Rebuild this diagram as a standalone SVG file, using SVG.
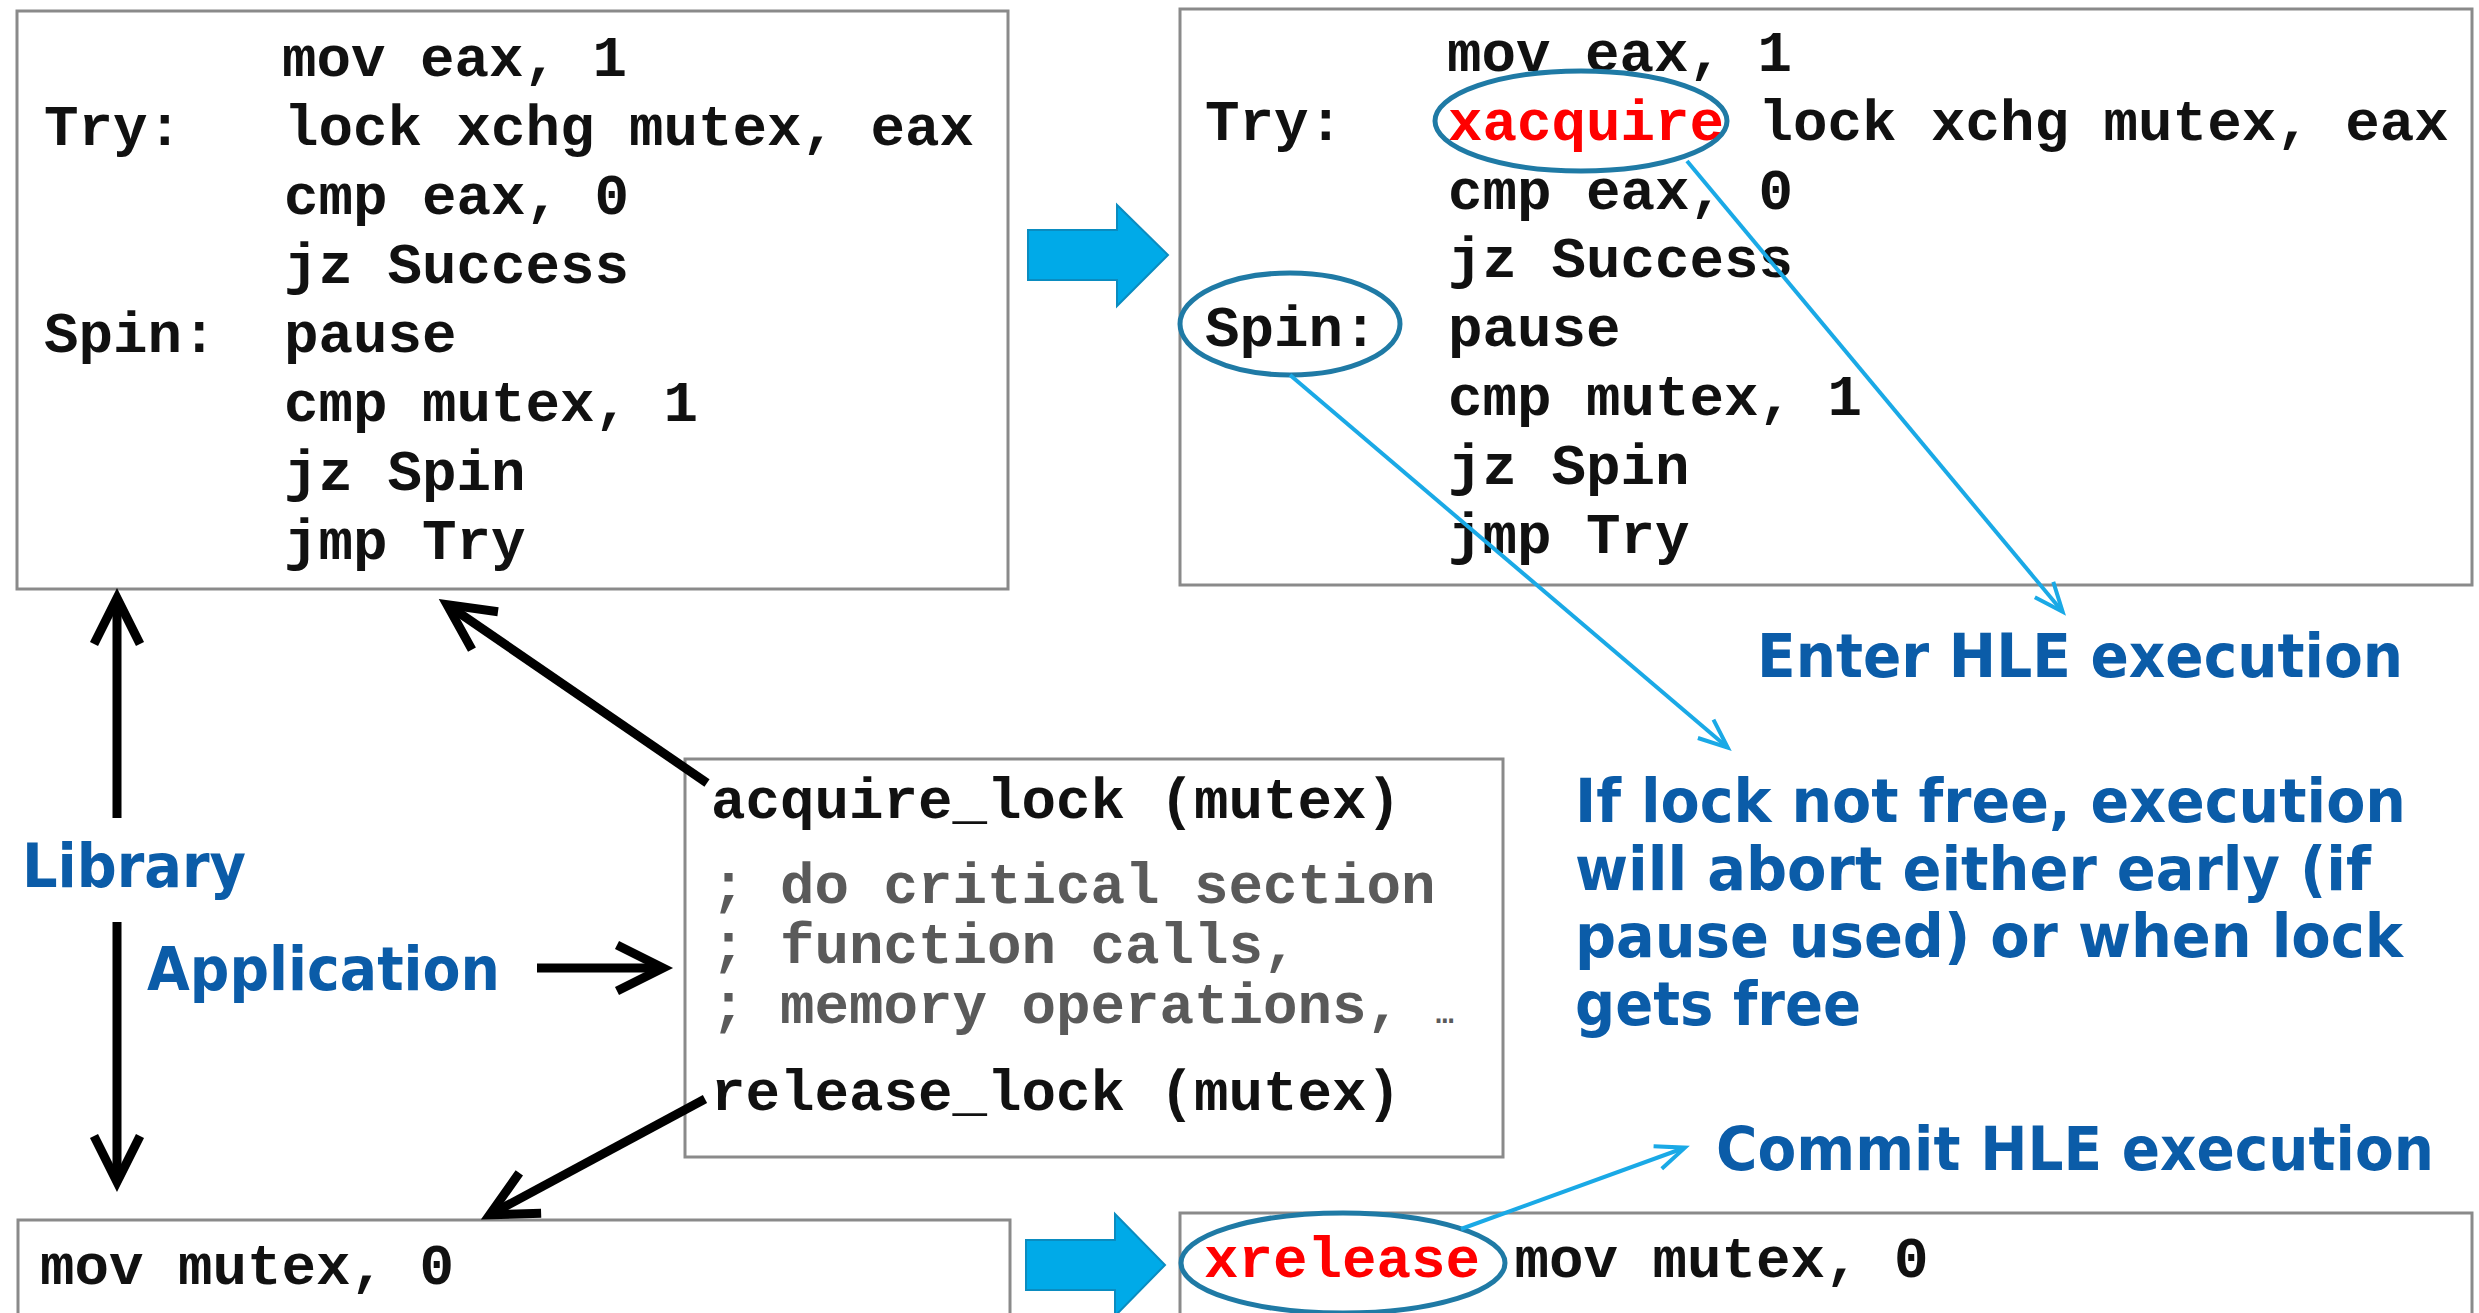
<svg xmlns="http://www.w3.org/2000/svg" width="2479" height="1313" viewBox="0 0 2479 1313">
  <style>
    .box { fill: #ffffff; stroke: #8a8a8a; stroke-width: 3; }
    .code { font-family: "Liberation Mono", "Courier New", monospace; font-weight: bold; font-size: 57.5px; fill: #111111; }
    .gray { fill: #5a5a5a; }
    .kw { fill: #ff0000; }
    .note { font-family: "DejaVu Sans", Verdana, sans-serif; font-weight: bold; font-size: 60px; fill: #0b5ca8; }
    .ring { fill: none; stroke: #1f7aa5; stroke-width: 5; }
    .big-arrow { fill: #00aae8; stroke: #0a8cc0; stroke-width: 2; }
    .link { fill: none; stroke: #000000; stroke-width: 9; }
    .hint { fill: none; stroke: #1aa9e6; stroke-width: 4; }
  </style>
  <defs>
    <marker id="head-black" markerUnits="userSpaceOnUse" viewBox="-60 -40 80 80" markerWidth="80" markerHeight="80" refX="-6" refY="0" orient="auto">
      <path d="M-46,-23 L0,0 L-46,23" fill="none" stroke="#000000" stroke-width="9" stroke-linejoin="miter"/>
    </marker>
    <marker id="head-blue" markerUnits="userSpaceOnUse" viewBox="-40 -20 50 40" markerWidth="50" markerHeight="40" refX="-1" refY="0" orient="auto">
      <path d="M-29,-12 L0,0 L-29,12" fill="none" stroke="#1aa9e6" stroke-width="4"/>
    </marker>
  </defs>

  <rect width="2479" height="1313" fill="#ffffff"/>

  <!-- original spin lock (library code) -->
  <g id="lock-original">
    <rect class="box" x="17" y="11" width="991" height="578"/>
    <text class="code" x="282" y="76">mov eax, 1</text>
    <text class="code" x="44" y="145">Try:</text>
    <text class="code" x="284" y="145">lock xchg mutex, eax</text>
    <text class="code" x="284" y="214">cmp eax, 0</text>
    <text class="code" x="284" y="283">jz Success</text>
    <text class="code" x="44" y="352">Spin:</text>
    <text class="code" x="284" y="352">pause</text>
    <text class="code" x="284" y="421">cmp mutex, 1</text>
    <text class="code" x="284" y="490">jz Spin</text>
    <text class="code" x="284" y="559">jmp Try</text>
  </g>

  <!-- HLE-enabled spin lock -->
  <g id="lock-hle">
    <rect class="box" x="1180" y="9" width="1292" height="576"/>
    <text class="code" x="1447" y="71">mov eax, 1</text>
    <text class="code" x="1205" y="140">Try:</text>
    <text class="code" x="1448" y="140"><tspan class="kw">xacquire</tspan> lock xchg mutex, eax</text>
    <text class="code" x="1448" y="209">cmp eax, 0</text>
    <text class="code" x="1448" y="277">jz Success</text>
    <text class="code" x="1205" y="346">Spin:</text>
    <text class="code" x="1448" y="346">pause</text>
    <text class="code" x="1448" y="415">cmp mutex, 1</text>
    <text class="code" x="1448" y="484">jz Spin</text>
    <text class="code" x="1448" y="553">jmp Try</text>
    <ellipse class="ring" cx="1581" cy="121" rx="146" ry="50"/>
    <ellipse class="ring" cx="1290" cy="324" rx="110" ry="51"/>
  </g>

  <!-- application critical section -->
  <g id="critical-section">
    <rect class="box" x="685" y="759" width="818" height="398"/>
    <text class="code" x="711" y="818">acquire_lock (mutex)</text>
    <text class="code gray" x="711" y="903">; do critical section</text>
    <text class="code gray" x="711" y="963">; function calls,</text>
    <text class="code gray" x="711" y="1023">; memory operations, <tspan font-size="30">…</tspan></text>
    <text class="code" x="711" y="1110">release_lock (mutex)</text>
  </g>

  <!-- original unlock -->
  <g id="unlock-original">
    <rect class="box" x="18" y="1220" width="992" height="110"/>
    <text class="code" x="40" y="1284">mov mutex, 0</text>
  </g>

  <!-- HLE-enabled unlock -->
  <g id="unlock-hle">
    <rect class="box" x="1180" y="1213" width="1292" height="117"/>
    <text class="code" x="1204" y="1277"><tspan class="kw">xrelease</tspan> mov mutex, 0</text>
    <ellipse class="ring" cx="1343" cy="1263" rx="162" ry="50"/>
  </g>

  <!-- layer labels -->
  <g id="label-library">
    <text class="note" x="22" y="887" textLength="224" lengthAdjust="spacingAndGlyphs">Library</text>
  </g>
  <g id="label-application">
    <text class="note" x="147" y="990" textLength="353" lengthAdjust="spacingAndGlyphs">Application</text>
  </g>

  <!-- HLE notes -->
  <g id="note-enter">
    <text class="note" x="1757" y="677" textLength="646" lengthAdjust="spacingAndGlyphs">Enter HLE execution</text>
  </g>
  <g id="note-abort">
    <text class="note" x="1575" y="822" textLength="831" lengthAdjust="spacingAndGlyphs">If lock not free, execution</text>
    <text class="note" x="1575" y="890" textLength="796" lengthAdjust="spacingAndGlyphs">will abort either early (if</text>
    <text class="note" x="1575" y="957" textLength="828" lengthAdjust="spacingAndGlyphs">pause used) or when lock</text>
    <text class="note" x="1575" y="1025" textLength="286" lengthAdjust="spacingAndGlyphs">gets free</text>
  </g>
  <g id="note-commit">
    <text class="note" x="1716" y="1170" textLength="718" lengthAdjust="spacingAndGlyphs">Commit HLE execution</text>
  </g>

  <!-- connectors -->
  <g id="connectors">
    <polygon class="big-arrow" points="1028,230 1117,230 1117,205 1168,255 1117,306 1117,280 1028,280"/>
    <polygon class="big-arrow" points="1026,1240 1115,1240 1115,1214 1165,1265 1115,1316 1115,1290 1026,1290"/>

    <line class="link" x1="117" y1="818" x2="117" y2="604" marker-end="url(#head-black)"/>
    <line class="link" x1="117" y1="922" x2="117" y2="1176" marker-end="url(#head-black)"/>
    <line class="link" x1="707" y1="783" x2="452" y2="608" marker-end="url(#head-black)"/>
    <line class="link" x1="537" y1="968" x2="657" y2="968" marker-end="url(#head-black)"/>
    <line class="link" x1="705" y1="1099" x2="495" y2="1212" marker-end="url(#head-black)"/>

    <line class="hint" x1="1687" y1="161" x2="2062" y2="611" marker-end="url(#head-blue)"/>
    <line class="hint" x1="1290" y1="375" x2="1727" y2="747" marker-end="url(#head-blue)"/>
    <line class="hint" x1="1461" y1="1229" x2="1684" y2="1148" marker-end="url(#head-blue)"/>
  </g>
</svg>
